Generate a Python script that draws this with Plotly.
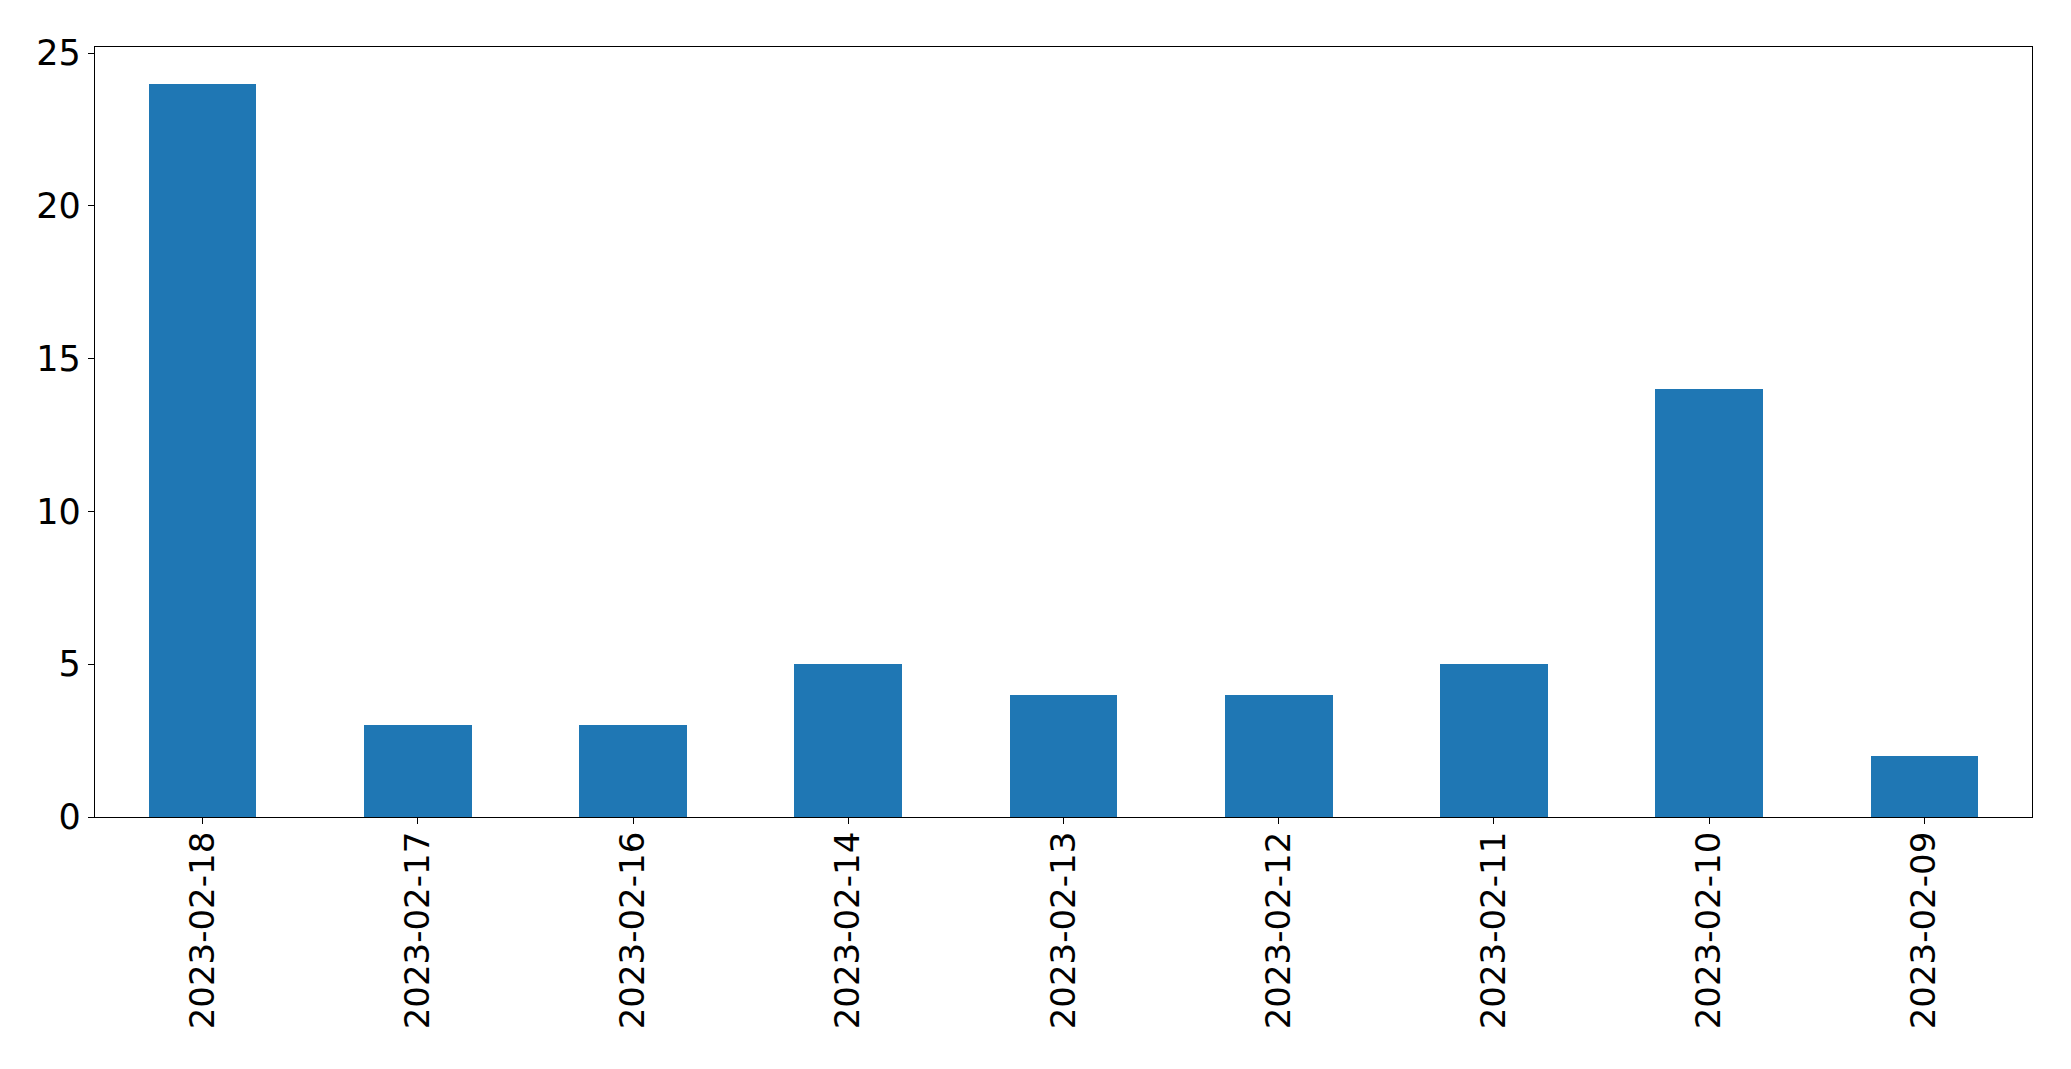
import plotly.graph_objects as go

dates = ["2023-02-18", "2023-02-17", "2023-02-16", "2023-02-14", "2023-02-13",
         "2023-02-12", "2023-02-11", "2023-02-10", "2023-02-09"]
counts = [24, 3, 3, 5, 4, 4, 5, 14, 2]

fig = go.Figure(go.Bar(x=dates, y=counts, width=0.5, marker=dict(color="#1f77b4", line=dict(width=0))))

fig.update_layout(
    width=2063, height=1061,
    margin=dict(l=87, r=39, t=39, b=252),
    plot_bgcolor="white", paper_bgcolor="white",
    font=dict(family="DejaVu Sans", size=34, color="black"),
    showlegend=False,
    bargap=0,
)
fig.update_xaxes(
    type="category", range=[-0.5, 8.5],
    tickangle=-90, ticks="outside", ticklen=6, tickwidth=1.3, tickcolor="black",
    showline=True, linecolor="black", linewidth=1.3, mirror=True,
    showgrid=False, zeroline=False, tickfont=dict(size=34),
    ticklabelstandoff=-6,
)
fig.update_yaxes(
    range=[0, 25.2], tickvals=[0, 5, 10, 15, 20, 25],
    ticks="outside", ticklen=6, tickwidth=1.3, tickcolor="black",
    showline=True, linecolor="black", linewidth=1.3, mirror=True,
    showgrid=False, zeroline=False, tickfont=dict(size=35),
)

fig.write_html("out.html")
